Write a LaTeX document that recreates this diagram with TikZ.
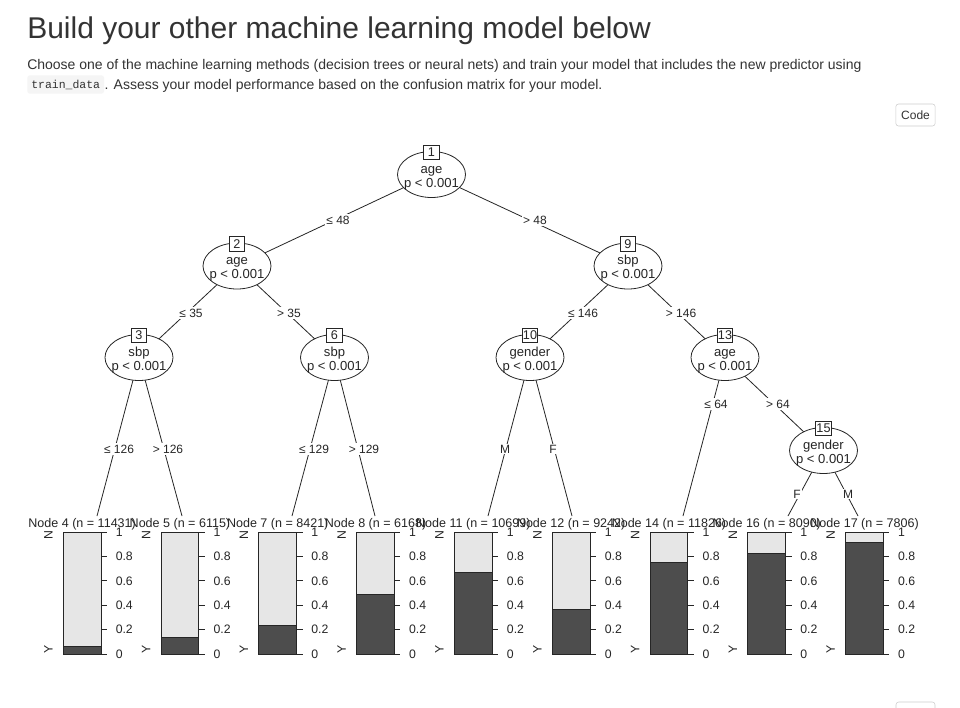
\documentclass[tikz,border=0pt]{standalone}
\usepackage{fontspec}
\setmainfont{Liberation Sans}
\setmonofont{Liberation Mono}
\usetikzlibrary{shapes.geometric}
\pgfdeclarelayer{bg}
\pgfsetlayers{bg,main}
\definecolor{txtc}{HTML}{333333}
\definecolor{lightg}{HTML}{E6E6E6}
\definecolor{darkg}{HTML}{4D4D4D}
\definecolor{codebg}{HTML}{F5F5F5}
\definecolor{btnb}{HTML}{CCCCCC}
\newcommand\innernode[5]{%
  \node[inner] (#1) at (#2,#3) {};
  \node[idbox] (#1id) at (#2,#3-22) {#4};
  \node[lbl, anchor=base] (#1var) at (#2,#3-1.5) {#5};
  \node[lbl, anchor=base] (#1p) at (#2,#3+12.5) {p < 0.001};
}
\newcommand\termpanel[4]{%
  \pgfmathsetmacro\bL{#2}%
  \pgfmathsetmacro\bR{#2+37.7}%
  \pgfmathsetmacro\bC{#2+18.85}%
  \pgfmathsetmacro\bD{654-122*#3}%
  \fill[lightg] (\bL,532) rectangle (\bR,654);
  \fill[darkg] (\bL,\bD) rectangle (\bR,654);
  \draw[barline] (\bL,\bD) -- (\bR,\bD);
  \draw[barline] (\bL,532) rectangle (\bR,654);
  \foreach \v/\t [count=\i] in {0/0,0.2/0.2,0.4/0.4,0.6/0.6,0.8/0.8,1/1} {
    \draw[barline] (\bR,654-122*\v) -- ++(6,0);
    \node[axl, anchor=west] (#1ax\i) at (\bR+14.5,654-122*\v) {\t};
  }
  \node[axl, rotate=90] (#1N) at (\bL-15,535) {N};
  \node[axl, rotate=90] (#1Y) at (\bL-15,649) {Y};
  \node[ttl] (#1t) at (\bC,524) {#4};
}
\begin{document}
\begin{tikzpicture}[x=0.75pt,y=-0.75pt,
  inner/.style={draw=black!85, ellipse, fill=white, minimum width=51pt, minimum height=34.5pt, inner sep=0pt, line width=0.6pt},
  idbox/.style={draw=black!85, fill=white, inner sep=0pt, minimum width=11.5pt, minimum height=11pt, line width=0.6pt, text=black!85, font=\fontsize{9.5}{10}\selectfont},
  lbl/.style={font=\fontsize{9.8}{10}\selectfont, inner sep=0pt, text=black!85},
  elab/.style={fill=white, font=\fontsize{9}{10}\selectfont, inner sep=1pt, text=black!85},
  conn/.style={line width=0.6pt, draw=black!85},
  barline/.style={line width=0.7pt, draw=black!85},
  axl/.style={font=\fontsize{9.2}{10}\selectfont, inner sep=0pt, text=black!85},
  ttl/.style={font=\fontsize{9.4}{10}\selectfont, inner sep=0pt, text=black!85},
]
\useasboundingbox (0,0) rectangle (960,707);
\begin{pgfonlayer}{bg}
\fill[white] (0,0) rectangle (960,707);
\end{pgfonlayer}
\begin{scope}
\clip (0,0) rectangle (960,707);
% header
\node[anchor=base west, inner sep=0pt, text=txtc, font=\fontsize{22.5}{26}\selectfont] (title) at (27,38) {Build your other machine learning model below};
\node[anchor=base west, inner sep=0pt, text=txtc, font=\fontsize{10.5}{12}\selectfont] (para1) at (27,69) {Choose one of the machine learning methods (decision trees or neural nets) and train your model that includes the new predictor using};
\node[anchor=west, fill=codebg, rounded corners=2pt, inner xsep=3pt, minimum height=13.5pt, text=txtc, font=\ttfamily\fontsize{8.6}{10}\selectfont] (code) at (27,84.5) {train\_data};
\node[anchor=base west, inner sep=0pt, text=txtc, font=\fontsize{10.5}{12}\selectfont] (para2) at (code.east |- 0,89) {. Assess your model performance based on the confusion matrix for your model.};
\node[draw=btnb, rounded corners=2pt, minimum width=29.5pt, minimum height=16.5pt, inner sep=0pt, text=txtc, font=\fontsize{9}{10}\selectfont] (codebtn) at (915.5,115) {Code};
\draw[btnb, rounded corners=2pt] (896,730) -- (896,702) -- (935,702) -- (935,730);
\end{scope}
% inner nodes
\innernode{n1}{431.5}{174.5}{1}{age}
\innernode{n2}{237}{266}{2}{age}
\innernode{n9}{628}{266}{9}{sbp}
\innernode{n3}{139}{357.5}{3}{sbp}
\innernode{n6}{334.5}{357.5}{6}{sbp}
\innernode{n10}{530}{357.5}{10}{gender}
\innernode{n13}{725}{357.5}{13}{age}
\innernode{n15}{823.5}{450.5}{15}{gender}
% terminal line ends
\coordinate (t4) at (97,516);
\coordinate (t5) at (182,516);
\coordinate (t7) at (292,516);
\coordinate (t8) at (375,516);
\coordinate (t11) at (488,516);
\coordinate (t12) at (572,516);
\coordinate (t14) at (683,516);
\coordinate (t16) at (788,516);
\coordinate (t17) at (858,516);
\begin{pgfonlayer}{bg}
\draw[conn] (n1.center) -- (n2.center);
\draw[conn] (n1.center) -- (n9.center);
\draw[conn] (n2.center) -- (n3.center);
\draw[conn] (n2.center) -- (n6.center);
\draw[conn] (n9.center) -- (n10.center);
\draw[conn] (n9.center) -- (n13.center);
\draw[conn] (n3.center) -- (t4);
\draw[conn] (n3.center) -- (t5);
\draw[conn] (n6.center) -- (t7);
\draw[conn] (n6.center) -- (t8);
\draw[conn] (n10.center) -- (t11);
\draw[conn] (n10.center) -- (t12);
\draw[conn] (n13.center) -- (t14);
\draw[conn] (n13.center) -- (n15.center);
\draw[conn] (n15.center) -- (t16);
\draw[conn] (n15.center) -- (t17);
\end{pgfonlayer}
% edge labels
\node[elab] (e12) at (338,220) {≤ 48};
\node[elab] (e19) at (535,220) {> 48};
\node[elab] (e23) at (191,313) {≤ 35};
\node[elab] (e26) at (289,313) {> 35};
\node[elab] (e910) at (583,313) {≤ 146};
\node[elab] (e913) at (681,313) {> 146};
\node[elab] (e34) at (119,449) {≤ 126};
\node[elab] (e35) at (168,449) {> 126};
\node[elab] (e67) at (314,449) {≤ 129};
\node[elab] (e68) at (364,449) {> 129};
\node[elab] (e1011) at (505,449) {M};
\node[elab] (e1012) at (553,449) {F};
\node[elab] (e1314) at (716,404) {≤ 64};
\node[elab] (e1315) at (778,404) {> 64};
\node[elab] (e1516) at (797,494) {F};
\node[elab] (e1517) at (848,494) {M};
% terminal panels
\termpanel{p4}{63.3}{0.06}{Node 4 (n = 11431)}
\termpanel{p5}{161.1}{0.137}{Node 5 (n = 6115)}
\termpanel{p7}{258.9}{0.235}{Node 7 (n = 8421)}
\termpanel{p8}{356.7}{0.49}{Node 8 (n = 6168)}
\termpanel{p11}{454.5}{0.67}{Node 11 (n = 10699)}
\termpanel{p12}{552.3}{0.369}{Node 12 (n = 9242)}
\termpanel{p14}{650.1}{0.75}{Node 14 (n = 11826)}
\termpanel{p16}{747.9}{0.825}{Node 16 (n = 8090)}
\termpanel{p17}{845.7}{0.916}{Node 17 (n = 7806)}
\end{tikzpicture}
\end{document}
